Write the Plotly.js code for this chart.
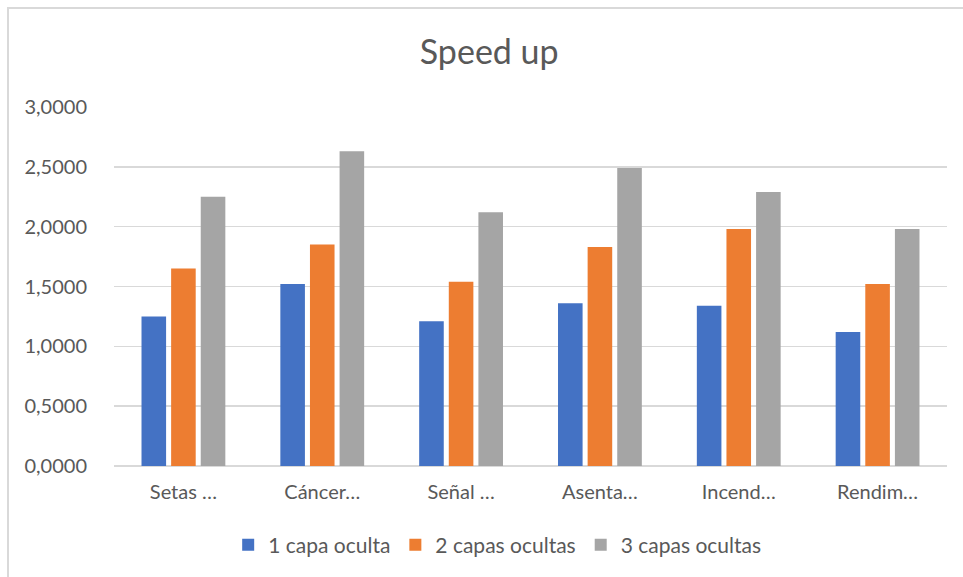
<!DOCTYPE html>
<html>
<head>
<meta charset="utf-8">
<script src="https://cdn.plot.ly/plotly-3.0.1.min.js"></script>
<style>
html,body{margin:0;padding:0;background:#fff;}
#frame{position:absolute;left:7px;top:7px;width:970px;height:590px;border-left:2px solid #d9d9d9;border-top:2px solid #d9d9d9;box-sizing:border-box;}
#chart{position:absolute;left:0;top:0;width:963px;height:577px;}
</style>
</head>
<body>
<div id="frame"></div>
<div id="chart"></div>
<script>
const categories = ["Setas …", "Cáncer…", "Señal …", "Asenta…", "Incend…", "Rendim…"];
const seriesNames = ["1 capa oculta", "2 capas ocultas", "3 capas ocultas"];
const capa1 = [1.25, 1.52, 1.21, 1.36, 1.34, 1.12];
const capa2 = [1.65, 1.85, 1.54, 1.83, 1.98, 1.52];
const capa3 = [2.25, 2.63, 2.12, 2.49, 2.29, 1.98];
const yTicks = [0, 0.5, 1, 1.5, 2, 2.5, 3];
const yTickText = ["0,0000", "0,5000", "1,0000", "1,5000", "2,0000", "2,5000", "3,0000"];
const colors = ["#4472C4", "#ED7D31", "#A5A5A5"];

const FONT = "Lato, 'Open Sans', sans-serif";
const values = [capa1, capa2, capa3];
const traces = values.map((v, i) => ({
  type: "bar",
  name: seriesNames[i],
  x: categories,
  y: v,
  marker: {color: colors[i]},
  hoverinfo: "y"
}));

const layout = {
  width: 963, height: 577,
  paper_bgcolor: "rgba(0,0,0,0)",
  plot_bgcolor: "rgba(0,0,0,0)",
  margin: {l: 114, r: 16, t: 107, b: 110},
  title: {text: "Speed up", x: 0.508, xanchor: "center", y: 0.91, yanchor: "middle",
          font: {family: FONT, size: 34, color: "#595959"}},
  barmode: "group",
  bargap: 0.36,
  bargroupgap: 0.17,
  showlegend: true,
  legend: {orientation: "h", x: 0.46, xanchor: "center", y: -0.217, yanchor: "middle",
           font: {family: FONT, size: 21, color: "#595959"}, traceorder: "normal",
           itemwidth: 30},
  xaxis: {
    type: "category",
    tickfont: {family: FONT, size: 20, color: "#595959"},
    showgrid: false, showline: false, zeroline: false,
    ticks: "outside", ticklen: 8, tickcolor: "rgba(0,0,0,0)"
  },
  yaxis: {
    range: [0, 3],
    tickvals: yTicks, ticktext: yTickText,
    tickfont: {family: FONT, size: 20, color: "#595959"},
    showgrid: true, gridcolor: "#d9d9d9", gridwidth: 1.5,
    zeroline: true, zerolinecolor: "#d9d9d9", zerolinewidth: 1.5,
    showline: false,
    ticks: "outside", ticklen: 22, tickcolor: "rgba(0,0,0,0)"
  }
};

Plotly.newPlot("chart", traces, layout, {displayModeBar: false, staticPlot: true});
</script>
</body>
</html>
